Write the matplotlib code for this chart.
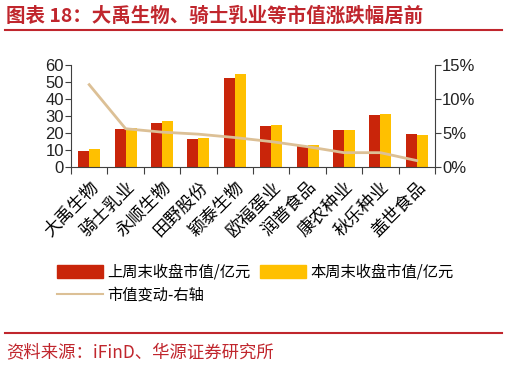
import matplotlib
matplotlib.use("Agg")
import matplotlib.pyplot as plt
import numpy as np
from matplotlib.patches import Patch
from matplotlib.lines import Line2D

plt.rcParams['font.family'] = ['Noto Sans CJK SC', 'DejaVu Sans']

categories = ["大禹生物", "骑士乳业", "永顺生物", "田野股份", "颖泰生物",
              "欧福蛋业", "润普食品", "康农种业", "秋乐种业", "盖世食品"]
last_week = [9.4, 22.0, 26.0, 16.3, 52.3, 23.8, 12.4, 21.5, 30.5, 19.1]
this_week = [10.4, 23.0, 27.1, 17.1, 54.5, 24.4, 12.8, 21.6, 31.3, 18.9]
change_pct = [12.1, 5.6, 5.1, 4.8, 4.3, 3.7, 2.95, 2.07, 2.07, 0.9]

W, H = 507, 366
fig = plt.figure(figsize=(W / 100, H / 100), dpi=100)

red = "#C9250A"
yellow = "#FFC000"
tan = "#DCC096"
title_red = "#C0262D"

ax = fig.add_axes([71 / W, 1 - 166.7 / H, (435 - 71) / W, (166.7 - 65) / H])
x = np.arange(len(categories))
bw = 0.3
ax.bar(x - bw / 2, last_week, bw, color=red, zorder=2)
ax.bar(x + bw / 2, this_week, bw, color=yellow, zorder=2)
ax.set_xlim(-0.5, len(categories) - 0.5)
ax.set_ylim(0, 60)
ax.set_yticks(range(0, 61, 10))
for s in ["top", "right"]:
    ax.spines[s].set_visible(False)
ax.spines["left"].set_color("#404040")
ax.spines["bottom"].set_color("#404040")
ax.tick_params(axis="y", direction="out", length=4, color="#404040",
               labelsize=12, pad=1)
for t in ax.get_yticklabels():
    t.set_fontfamily("Liberation Sans")
    t.set_color("#222222")
ax.set_xticks(np.arange(-0.5, len(categories), 1.0), minor=False)
ax.set_xticklabels([])
ax.tick_params(axis="x", which="major", direction="out", length=5, color="#404040")
ax.set_xticks(x, minor=True)
ax.set_xticklabels(categories, minor=True, rotation=45, ha="right",
                   rotation_mode="anchor", fontsize=12.5)
ax.tick_params(axis="x", which="minor", length=0, pad=8)

ax2 = ax.twinx()
ax2.plot(x, change_pct, color=tan, lw=2, zorder=3)
ax2.set_ylim(0, 15)
ax2.set_yticks([0, 5, 10, 15])
ax2.set_yticklabels(["0%", "5%", "10%", "15%"])
for s in ["top", "left", "bottom"]:
    ax2.spines[s].set_visible(False)
ax2.spines["right"].set_color("#404040")
ax2.tick_params(axis="y", direction="out", length=4, color="#404040",
                labelsize=12, pad=1)
for t in ax2.get_yticklabels():
    t.set_fontfamily("Liberation Sans")
    t.set_color("#222222")

# Title
fig.text(6 / W, 1 - 16 / H, "图表 18：大禹生物、骑士乳业等市值涨跌幅居前",
         color=title_red, fontsize=14, fontweight="bold", va="center", ha="left")
fig.add_artist(Line2D([5 / W, 502 / W], [1 - 30 / H, 1 - 30 / H],
                      color=title_red, lw=1.5))
fig.add_artist(Line2D([5 / W, 502 / W], [1 - 333 / H, 1 - 333 / H],
                      color=title_red, lw=1.5))
fig.text(6 / W, 1 - 352 / H, "资料来源：iFinD、华源证券研究所",
         color=title_red, fontsize=12.5, va="center", ha="left")

# Legend
handles1 = [Patch(color=red, label="上周末收盘市值/亿元"),
            Patch(color=yellow, label="本周末收盘市值/亿元")]
leg1 = fig.legend(handles=handles1, loc="center left",
                  bbox_to_anchor=(57 / W, 1 - 272 / H), ncol=2, frameon=False,
                  fontsize=11, handlelength=3.0, handleheight=0.9,
                  columnspacing=0.6, handletextpad=0.3, borderaxespad=0, borderpad=0)
handles2 = [Line2D([], [], color=tan, lw=1.5, label="市值变动-右轴")]
fig.legend(handles=handles2, loc="center left",
           bbox_to_anchor=(57 / W, 1 - 295 / H), frameon=False,
           fontsize=11, handlelength=3.0, handletextpad=0.3,
           borderaxespad=0, borderpad=0)

fig.savefig("out.png", dpi=100)
